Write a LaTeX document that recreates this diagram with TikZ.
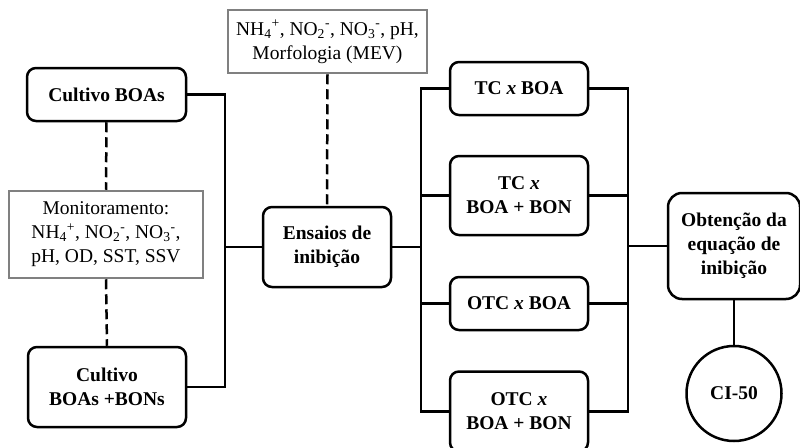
\documentclass[tikz,border=0pt]{standalone}
\usepackage{fontspec}
\setmainfont{Liberation Serif}
\newcommand\chemss[2]{\textsubscript{#1}\textsuperscript{#2}}
\begin{document}
\begin{tikzpicture}[x=1pt,y=-1pt,
  every node/.style={font=\fontsize{19.5}{24}\selectfont, align=center, inner sep=0pt},
  blk/.style={draw=black, line width=2.5pt, rounded corners=9pt, rectangle, font=\fontsize{19.5}{24}\selectfont\bfseries},
  gry/.style={draw=black!50, line width=2.5pt, rectangle, fill=white},
  conn/.style={draw=black, line width=2.5pt},
  dsh/.style={draw=black, line width=2.5pt, dash pattern=on 10pt off 5pt}]
\useasboundingbox (0,0) rectangle (800,447);
% left column
\node[blk, minimum width=159pt, minimum height=53pt] (boa) at (106.5,94.5) {Cultivo BOAs};
\node[gry, minimum width=194pt, minimum height=87pt] (mon) at (106,234.5) {Monitoramento:\\NH\chemss{4}{+}, NO\chemss{2}{-}, NO\chemss{3}{-},\\pH, OD, SST, SSV};
\node[blk, minimum width=158pt, minimum height=80pt] (bon) at (107,387) {Cultivo\\BOAs +BONs};
% middle
\node[gry, minimum width=199pt, minimum height=63pt] (top) at (327.5,41.5) {NH\chemss{4}{+}, NO\chemss{2}{-}, NO\chemss{3}{-}, pH,\\Morfologia (MEV)};
\node[blk, minimum width=128pt, minimum height=80pt] (ens) at (327,247) {Ensaios de\\inibição};
% right tests
\node[blk, minimum width=138pt, minimum height=53pt] (t1) at (519,88.5) {TC \textit{x} BOA};
\node[blk, minimum width=138pt, minimum height=79pt] (t2) at (519,195.5) {TC \textit{x}\\BOA + BON};
\node[blk, minimum width=138pt, minimum height=53pt] (t3) at (519,303.5) {OTC \textit{x} BOA};
\node[blk, minimum width=138pt, minimum height=80pt] (t4) at (519,411.5) {OTC \textit{x}\\BOA + BON};
% result
\node[blk, minimum width=132pt, minimum height=106pt, rounded corners=14pt] (obt) at (734,246) {Obtenção da\\equação de\\inibição};
\node[draw=black, line width=2.5pt, circle, minimum size=95pt, font=\fontsize{19.5}{24}\selectfont\bfseries] (ci) at (734,393.5) {CI-50};
% coordinates
\coordinate (lb1) at (225,94.5);
\coordinate (lb2) at (225,387);
\coordinate (lbm) at (225,247);
\coordinate (rb1) at (421,88.5);
\coordinate (rb4) at (421,411.5);
\coordinate (rbm) at (421,247);
\coordinate (sb1) at (628,88.5);
\coordinate (sb4) at (628,411.5);
\coordinate (sbm) at (628,246);
% connectors
\draw[conn] (boa.east) -- (lb1) -- (lb2) -- (bon.east);
\draw[conn] (lbm) -- (ens.west);
\draw[conn] (ens.east) -- (rbm);
\draw[conn] (t1.west) -- (rb1) -- (rb4) -- (t4.west);
\draw[conn] (t2.west) -- (t2.west -| rb1);
\draw[conn] (t3.west) -- (t3.west -| rb1);
\draw[conn] (t1.east) -- (sb1) -- (sb4) -- (t4.east);
\draw[conn] (t2.east) -- (t2.east -| sb1);
\draw[conn] (t3.east) -- (t3.east -| sb1);
\draw[conn] (sbm) -- (obt.west);
\draw[conn] (obt.south) -- (ci.north);
% dashed
\draw[dsh] (boa.south) -- (mon.north);
\draw[dsh] (mon.south) -- (bon.north);
\draw[dsh] (top.south) -- (ens.north);
\end{tikzpicture}
\end{document}
